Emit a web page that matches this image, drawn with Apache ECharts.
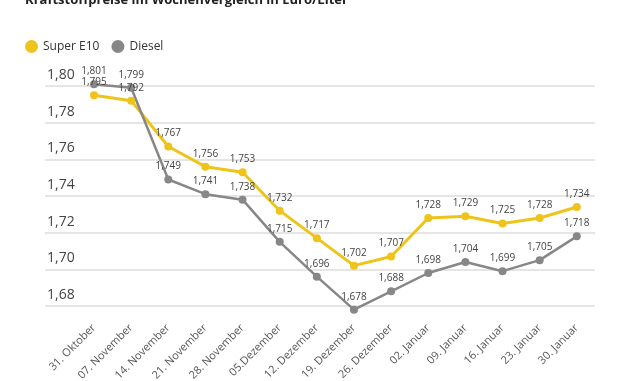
<!DOCTYPE html>
<html>
<head>
<meta charset="utf-8">
<script src="https://cdn.jsdelivr.net/npm/echarts@6/dist/echarts.min.js"></script>
<style>html,body{margin:0;padding:0;background:#fff}#c{width:630px;height:381px}</style>
</head>
<body>
<div id="c"></div>
<script>
var categories = ['31. Oktober','07. November','14. November','21. November','28. November','05.Dezember','12. Dezember','19. Dezember','26. Dezember','02. Januar','09. Januar','16. Januar','23. Januar','30. Januar'];
var superE10 = [1.795,1.792,1.767,1.756,1.753,1.732,1.717,1.702,1.707,1.728,1.729,1.725,1.728,1.734];
var diesel = [1.801,1.799,1.749,1.741,1.738,1.715,1.696,1.678,1.688,1.698,1.704,1.699,1.705,1.718];
var yTicks = [1.68,1.70,1.72,1.74,1.76,1.78,1.80];

function pairs(arr){ return arr.map(function(v,i){ return [i,v]; }); }
function fmt(v){ return v.toFixed(3).replace('.',','); }

var chart = echarts.init(document.getElementById('c'), null, {renderer:'canvas'});
var labelStyle = {show:true, position:'top', distance:4, fontFamily:'Open Sans', fontSize:10, color:'#444',
  formatter:function(p){ return fmt(p.value[1]); }};
chart.setOption({
  animation:false,
  title:{text:'Kraftstoffpreise im Wochenvergleich in Euro/Liter', left:20, top:-11,
    textStyle:{fontFamily:'Open Sans', fontWeight:'bold', fontSize:13, color:'#222'}},
  legend:{left:20, top:35, icon:'circle', itemWidth:13, itemHeight:13, itemGap:12,
    textStyle:{fontFamily:'Open Sans', fontSize:12, color:'#333'},
    data:['Super E10','Diesel']},
  grid:{left:45, right:35, top:86, bottom:75, outerBoundsMode:'none', containLabel:false},
  xAxis:{type:'value', min:-1.32, max:13.49,
    axisLine:{show:false}, axisTick:{show:false}, splitLine:{show:false},
    axisLabel:{customValues:categories.map(function(c,i){return i;}), rotate:45, margin:20,
      fontFamily:'Open Sans', fontSize:11, color:'#555',
      formatter:function(v){ return categories[Math.round(v)]; }}},
  yAxis:{type:'value', min:1.68, max:1.80, interval:0.02,
    axisLine:{show:false}, axisTick:{show:false},
    splitLine:{lineStyle:{color:'#dcdcdc', width:1.5}},
    axisLabel:{inside:true, margin:0, verticalAlign:'bottom', padding:[0,0,4,2], fontFamily:'Open Sans', fontSize:14, color:'#444',
      formatter:function(v){ return v.toFixed(2).replace('.',','); }}},
  series:[
    {name:'Super E10', type:'line', data:pairs(superE10), clip:false, symbol:'circle', symbolSize:8,
      itemStyle:{color:'#EFC41A'}, lineStyle:{color:'#EFC41A', width:3}, label:labelStyle},
    {name:'Diesel', type:'line', data:pairs(diesel), clip:false, symbol:'circle', symbolSize:8,
      itemStyle:{color:'#878787'}, lineStyle:{color:'#878787', width:2.5}, label:labelStyle}
  ]
});
</script>
</body>
</html>
